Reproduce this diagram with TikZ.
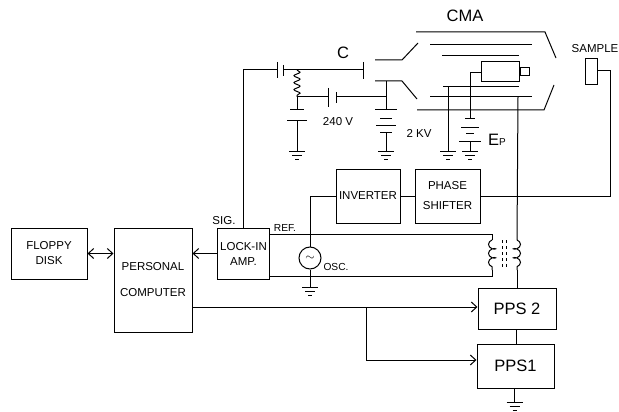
\documentclass[tikz,border=0pt]{standalone}
\usepackage{fontspec}
\setmainfont{Liberation Sans}
\usepackage{tikz}
\usetikzlibrary{arrows.meta, positioning, decorations.pathmorphing}
\tikzset{
    block/.style={
        rectangle,
        draw=black,
        line width=1pt,
        align=center,
        inner sep=0pt,
        fill=white,
        font=\fontsize{11.5}{15}\selectfont
    },
    bigblock/.style={
        block,
        font=\fontsize{16.5}{18}\selectfont
    },
    tag/.style={
        inner sep=0pt,
        font=\fontsize{11.5}{13}\selectfont
    },
    smalltag/.style={
        inner sep=0pt,
        font=\fontsize{10.2}{12}\selectfont
    },
    bigtag/.style={
        inner sep=0pt,
        font=\fontsize{16.5}{18}\selectfont
    },
    wire/.style={
        draw=black,
        line width=1pt
    },
    sigwire/.style={
        wire,
        -{Straight Barb[length=5.5pt,width=10pt]}
    },
    dualwire/.style={
        wire,
        {Straight Barb[length=5.5pt,width=10pt]}-{Straight Barb[length=5.5pt,width=10pt]}
    },
    pics/plate/.style={
        code={\draw[wire] (-#1,0) -- (#1,0);}
    },
    pics/earth/.style={
        code={\draw[wire] (-8,0) -- (8,0) (-5,4) -- (5,4) (-2,8) -- (2,8);}
    }
}
\begin{document}
\begin{tikzpicture}[x=1pt, y=-1pt]
\useasboundingbox (0,0) rectangle (619,412);

% Lower row - Blocks
\node[block, minimum width=76pt, minimum height=51pt] (floppy) at (49,253.5) {FLOPPY\\DISK};
\node[block, minimum width=78pt, minimum height=104pt, right=26pt of floppy, yshift=-26.5pt] (pc) {PERSONAL\\[11pt]COMPUTER};
\node[block, minimum width=52pt, minimum height=51pt] (lockin) at (243.5,253.5) {LOCK-IN\\AMP.};
\node[block, minimum width=64pt, minimum height=54pt] (inverter) at (368,196) {INVERTER};
\node[block, minimum width=65pt, minimum height=54pt, right=14pt of inverter] (phase) {PHASE\\[5pt]SHIFTER};
\node[bigblock, minimum width=78pt, minimum height=41pt] (pps2) at (517,308.5) {PPS 2};
\node[bigblock, minimum width=77pt, minimum height=44pt, below=14pt of pps2, xshift=-1.5pt] (pps1) {PPS1};
\node[circle, draw=black, line width=1pt, minimum size=22pt, inner sep=0pt, font=\fontsize{13}{13}\selectfont] (osc) at (310,258) {$\sim$};

% Labels
\node[bigtag] (cmalabel) at (465,16) {CMA};
\node[bigtag] (clabel) at (343,53) {C};
\node[tag] (samplelabel) at (595,49) {SAMPLE};
\node[tag] (hvlabel) at (338,122) {240 V};
\node[tag] (kvlabel) at (419,133) {2 KV};
\node[bigtag] (eplabel) at (497,140) {E{\fontsize{10}{10}\selectfont P}};
\node[tag] (siglabel) at (224,221) {SIG.};
\node[smalltag] (reflabel) at (285,228) {REF.};
\node[smalltag] (osclabel) at (336,267) {OSC.};

% Analyser and sample
\draw[wire] (416,32) -- (545,32) -- (556,58);
\draw[wire] (417,110) -- (544,110) -- (554,85);
\draw[wire] (430,45) -- (532,45);
\draw[wire] (442,56) -- (519,56);
\draw[wire] (443,87) -- (519,87);
\draw[wire] (430,97) -- (532,97);
\draw[wire] (375,60) -- (402,60) -- (418,43);
\draw[wire] (375,81) -- (402,81) -- (417,99);
\node[block, minimum width=38pt, minimum height=20pt] (gun) at (500,71.5) {};
\node[block, minimum width=9pt, minimum height=8pt, right=0pt of gun] (nozzle) {};
\node[block, minimum width=12pt, minimum height=26pt] (sample) at (591,72) {};

% Named points
\coordinate (capa) at (277,70);
\coordinate (capb) at (283,70);
\coordinate (plate) at (363,70);
\coordinate (rtop) at (297,70);
\coordinate (rbot) at (297,97);
\coordinate (capc) at (328,97);
\coordinate (capd) at (336,97);
\coordinate (lens) at (386,97);
\coordinate (lenstop) at (386,81);
\coordinate (gridgnd) at (448,87);
\coordinate (innerout) at (518,97);
\coordinate (gunwire) at (470,73);
\coordinate (trltop) at (492,240);
\coordinate (trlbot) at (492,270);
\coordinate (trrtop) at (517,240);
\coordinate (trrbot) at (517,270);

% Connections - Upper part
\draw[wire] (lockin.north) |- (capa);
\draw[wire] (capb) -- (plate);
\draw[wire, decorate, decoration={snake, amplitude=3pt, segment length=7pt}] (rtop) -- (rbot);
\draw[wire] (rbot) -- (capc);
\draw[wire] (capd) -- (lens);
\draw[wire] (lenstop) -- (386,110);
\draw[wire] (rbot) -- (297,110);
\draw[wire] (297,120) -- (297,151);
\draw[wire] (386,132) -- (386,151);
\draw[wire] (gridgnd) -- (448,151);
\draw[wire] (gunwire) -- (gun.west |- gunwire);
\draw[wire] (gunwire) -- (470,118);
\draw[wire] (470,141) -- (470,151);

% Capacitor and battery plates
\draw[wire] (277,62) -- (277,78);
\draw[wire] (283,65) -- (283,76);
\draw[wire] (363,62) -- (363,79);
\draw[wire] (328,88) -- (328,107);
\draw[wire] (336,92) -- (336,103);
\pic at (297,110) {plate=7};
\pic at (297,120) {plate=10};
\pic at (386,110) {plate=11};
\pic at (386,118) {plate=6};
\pic at (386,125) {plate=10};
\pic at (386,132) {plate=6};
\pic at (470,118) {plate=5};
\pic at (470,127) {plate=9};
\pic at (470,133) {plate=4};
\pic at (470,141) {plate=11};

% Grounds
\pic at (297,151) {earth};
\pic at (386,151) {earth};
\pic at (448,151) {earth};
\pic at (470,151) {earth};
\pic at (310,287) {earth};
\pic at (514.5,402) {earth};

% Connections - Lower part
\draw[dualwire] (floppy.east) -- (floppy.east -| pc.west);
\draw[sigwire] (lockin.west) -- (lockin.west -| pc.east);
\draw[wire] (inverter.west) -| (osc.north);
\draw[wire] (inverter.east) -- (phase.west);
\draw[wire] (phase.east) -| (610,71) -- (sample.east |- 0,71);
\draw[wire] (osc.south) -- (310,287);
\draw[wire] (innerout) -- (trrtop);
\draw[wire] (trrbot) -- (pps2.north -| trrbot);
\draw[wire] (lockin.east |- 0,234) -| (trltop);
\draw[wire] (lockin.east |- 0,276) -| (trlbot);
\draw[wire] (pps2.south -| 516,0) -- (pps1.north -| 516,0);
\draw[wire] (pps1.south -| 514.5,0) -- (514.5,402);
\draw[sigwire] (pc.east |- 0,307) -- (pps2.west |- 0,307);
\draw[sigwire] (366,307) |- (pps1.west |- 0,360);

% Transformer
\draw[wire, decorate, decoration={coil, aspect=0.6, amplitude=3.5pt, segment length=9pt, mirror}] (trltop) -- (trlbot);
\draw[wire, decorate, decoration={coil, aspect=0.6, amplitude=3.5pt, segment length=9pt}] (trrtop) -- (trrbot);
\draw[wire, dashed] (502.5,240) -- (502.5,270);
\draw[wire, dashed] (506.5,240) -- (506.5,270);

\end{tikzpicture}
\end{document}
